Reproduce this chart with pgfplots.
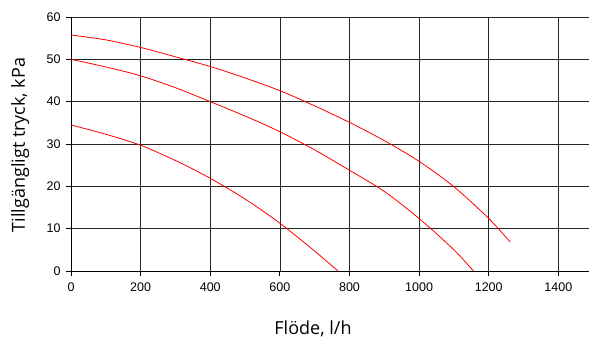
\documentclass[border=0pt]{standalone}
\usepackage{pgfplots}
\pgfplotsset{compat=1.18}
\usepackage{fontspec}
\setmainfont{Liberation Sans}
\newfontfamily\labfont{Open Sans}
\begin{document}
\begin{tikzpicture}
\begin{axis}[
  name=ax,
  scale only axis,
  width=518pt, height=254pt,
  xmin=0, xmax=1488, ymin=0, ymax=60,
  xtick={0,200,...,1400},
  ytick={0,10,...,60},
  grid=major,
  major grid style={black!85, line width=0.7pt},
  axis x line*=bottom, axis y line*=left,
  axis line style={-, black, line width=0.8pt},
  tick align=outside,
  major tick length=5pt,
  tick style={black, line width=0.8pt},
  ticklabel style={font=\fontsize{12.5}{13}\selectfont},
  /pgf/number format/assume math mode=true,
  /pgf/number format/1000 sep={},
  xticklabel style={yshift=-3pt},
  yticklabel style={xshift=-2pt},
]
\addplot[red, line width=0.8pt, smooth, tension=0.5] coordinates {
 (0,55.75)(100,54.6)(200,52.8)(300,50.6)(400,48.3)(500,45.6)(600,42.6)(700,39.0)(800,35.1)(900,30.8)(1000,25.9)(1100,19.9)(1200,12.4)(1261,6.9)};
\addplot[red, line width=0.8pt, smooth, tension=0.5] coordinates {
 (0,50)(100,48.2)(200,46.1)(300,43.3)(400,40.0)(500,36.6)(600,32.9)(700,28.6)(800,23.8)(900,18.8)(1000,12.4)(1100,5.0)(1156,0)};
\addplot[red, line width=0.8pt, smooth, tension=0.5] coordinates {
 (0,34.5)(100,32.3)(200,29.7)(300,26.1)(400,21.9)(500,17.0)(600,11.3)(700,4.7)(767,0)};
\end{axis}
\node[anchor=base, font=\labfont\fontsize{18}{18}\selectfont] at ([xshift=242pt,yshift=-64pt]ax.south west) {Flöde, l/h};
\node[anchor=base, rotate=90, font=\labfont\fontsize{18}{18}\selectfont] at ([xshift=-46pt,yshift=126pt]ax.south west) {Tillgängligt tryck, kPa};
\pgfresetboundingbox
\path ([xshift=-71pt,yshift=-67pt]ax.south west) rectangle ([yshift=17pt]ax.north east);
\end{tikzpicture}
\end{document}
